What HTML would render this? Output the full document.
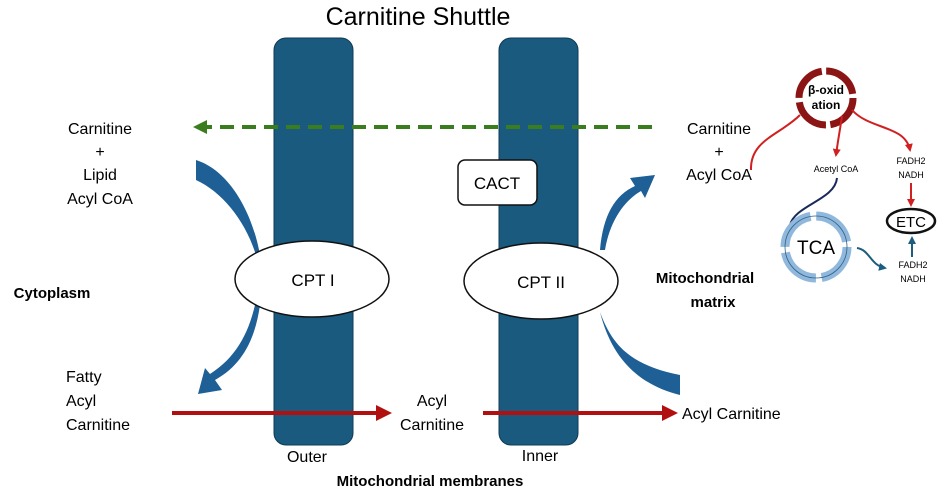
<!DOCTYPE html>
<html><head><style>body{margin:0;background:#fff}svg{display:block}text{font-family:"Liberation Sans",sans-serif}</style></head><body>
<svg width="941" height="495" viewBox="0 0 941 495">
<defs>
<marker id="rs" markerWidth="8" markerHeight="8" refX="6" refY="4" orient="auto" markerUnits="userSpaceOnUse"><path d="M0,0 L8,4 L0,8z" fill="#d02020"/></marker>
<marker id="bs" markerWidth="8" markerHeight="8" refX="6" refY="4" orient="auto" markerUnits="userSpaceOnUse"><path d="M0,0 L8,4 L0,8z" fill="#1b5e80"/></marker>
</defs>
<text x="418" y="25" font-size="25" text-anchor="middle">Carnitine Shuttle</text>
<rect x="274" y="38" width="79" height="407" rx="12" fill="#1a5a7e" stroke="#0e3a55"/>
<rect x="499" y="38" width="79" height="407" rx="12" fill="#1a5a7e" stroke="#0e3a55"/>
<line x1="652" y1="127" x2="205" y2="127" stroke="#3a7d1e" stroke-width="4" stroke-dasharray="14,8"/>
<path d="M207,120 L193,127 L207,134z" fill="#3a7d1e"/>
<path d="M196,160 C228,170 252,210 260,255 L256,255 C245,220 222,192 196,180z" fill="#1e5f95"/>
<path d="M260,305 C255,340 242,365 215,380 L222,390 L198,394 L205,368 L210,374 C235,358 248,335 255,305z" fill="#1e5f95"/>
<path d="M600,250 C603,215 615,195 635,186 L630,178 L655,175 L645,198 L641,191 C625,200 610,220 605,250z" fill="#1e5f95"/>
<path d="M600,312 C612,345 630,365 680,375 L680,395 C640,385 612,360 600,312z" fill="#1e5f95"/>
<ellipse cx="312" cy="279" rx="77" ry="38" fill="#fff" stroke="#111" stroke-width="1.5"/>
<ellipse cx="541" cy="281" rx="77" ry="38" fill="#fff" stroke="#111" stroke-width="1.5"/>
<text x="313" y="286" font-size="17" text-anchor="middle">CPT I</text>
<text x="541" y="288" font-size="17" text-anchor="middle">CPT II</text>
<rect x="458" y="160" width="79" height="45" rx="7" fill="#fff" stroke="#111" stroke-width="1.5"/>
<text x="497" y="189" font-size="17" text-anchor="middle">CACT</text>
<line x1="172" y1="413" x2="380" y2="413" stroke="#b01010" stroke-width="4"/>
<path d="M376,405 L392,413 L376,421z" fill="#b01010"/>
<line x1="483" y1="413" x2="665" y2="413" stroke="#b01010" stroke-width="4"/>
<path d="M662,405 L678,413 L662,421z" fill="#b01010"/>
<g font-size="16" text-anchor="middle">
<text x="100" y="134">Carnitine</text><text x="100" y="157">+</text><text x="100" y="180">Lipid</text><text x="100" y="204">Acyl CoA</text>
<text x="719" y="134">Carnitine</text><text x="719" y="157">+</text><text x="719" y="180">Acyl CoA</text>
<text x="432" y="406">Acyl</text><text x="432" y="430">Carnitine</text>
<text x="307" y="462">Outer</text><text x="540" y="461">Inner</text>
</g>
<g font-size="16"><text x="66" y="382">Fatty</text><text x="66" y="406">Acyl</text><text x="66" y="430">Carnitine</text><text x="682" y="419">Acyl Carnitine</text></g>
<g font-size="15" font-weight="bold" text-anchor="middle"><text x="52" y="298">Cytoplasm</text><text x="705" y="283">Mitochondrial</text><text x="713" y="307">matrix</text><text x="430" y="486">Mitochondrial membranes</text></g>
<circle cx="826" cy="98" r="27" fill="none" stroke="#8b1414" stroke-width="7" stroke-dasharray="38,4.4"/>
<text x="826" y="94" font-size="12" font-weight="bold" text-anchor="middle">β-oxid</text>
<text x="826" y="109" font-size="12" font-weight="bold" text-anchor="middle">ation</text>
<path d="M751,170 C750,140 780,135 800,115" fill="none" stroke="#d02020" stroke-width="2"/>
<path d="M842,116 C840,130 838,140 836,155" fill="none" stroke="#d02020" stroke-width="2" marker-end="url(#rs)"/>
<path d="M852,110 C870,130 905,125 910,150" fill="none" stroke="#d02020" stroke-width="2" marker-end="url(#rs)"/>
<text x="836" y="172" font-size="9" text-anchor="middle">Acetyl CoA</text>
<text x="911" y="164" font-size="9" text-anchor="middle">FADH2</text>
<text x="911" y="178" font-size="9" text-anchor="middle">NADH</text>
<line x1="911" y1="183" x2="911" y2="205" stroke="#d02020" stroke-width="2" marker-end="url(#rs)"/>
<ellipse cx="911" cy="221" rx="24" ry="12" fill="#fff" stroke="#111" stroke-width="2.5"/>
<text x="911" y="227" font-size="15" text-anchor="middle">ETC</text>
<path d="M837,178 C835,200 795,205 790,225" fill="none" stroke="#1a2a5a" stroke-width="2"/>
<circle cx="816" cy="247" r="31" fill="none" stroke="#8fb8dc" stroke-width="9" stroke-dasharray="43,5.7"/>
<circle cx="816" cy="247" r="31" fill="none" stroke="#2f5f85" stroke-width="0.8"/>
<text x="816" y="254" font-size="19" text-anchor="middle">TCA</text>
<path d="M857,248 C870,250 870,265 885,268" fill="none" stroke="#1b5e80" stroke-width="2" marker-end="url(#bs)"/>
<line x1="912" y1="257" x2="912" y2="238" stroke="#1b5e80" stroke-width="2" marker-end="url(#bs)"/>
<text x="913" y="268" font-size="9" text-anchor="middle">FADH2</text>
<text x="913" y="282" font-size="9" text-anchor="middle">NADH</text>
</svg>
</body></html>
